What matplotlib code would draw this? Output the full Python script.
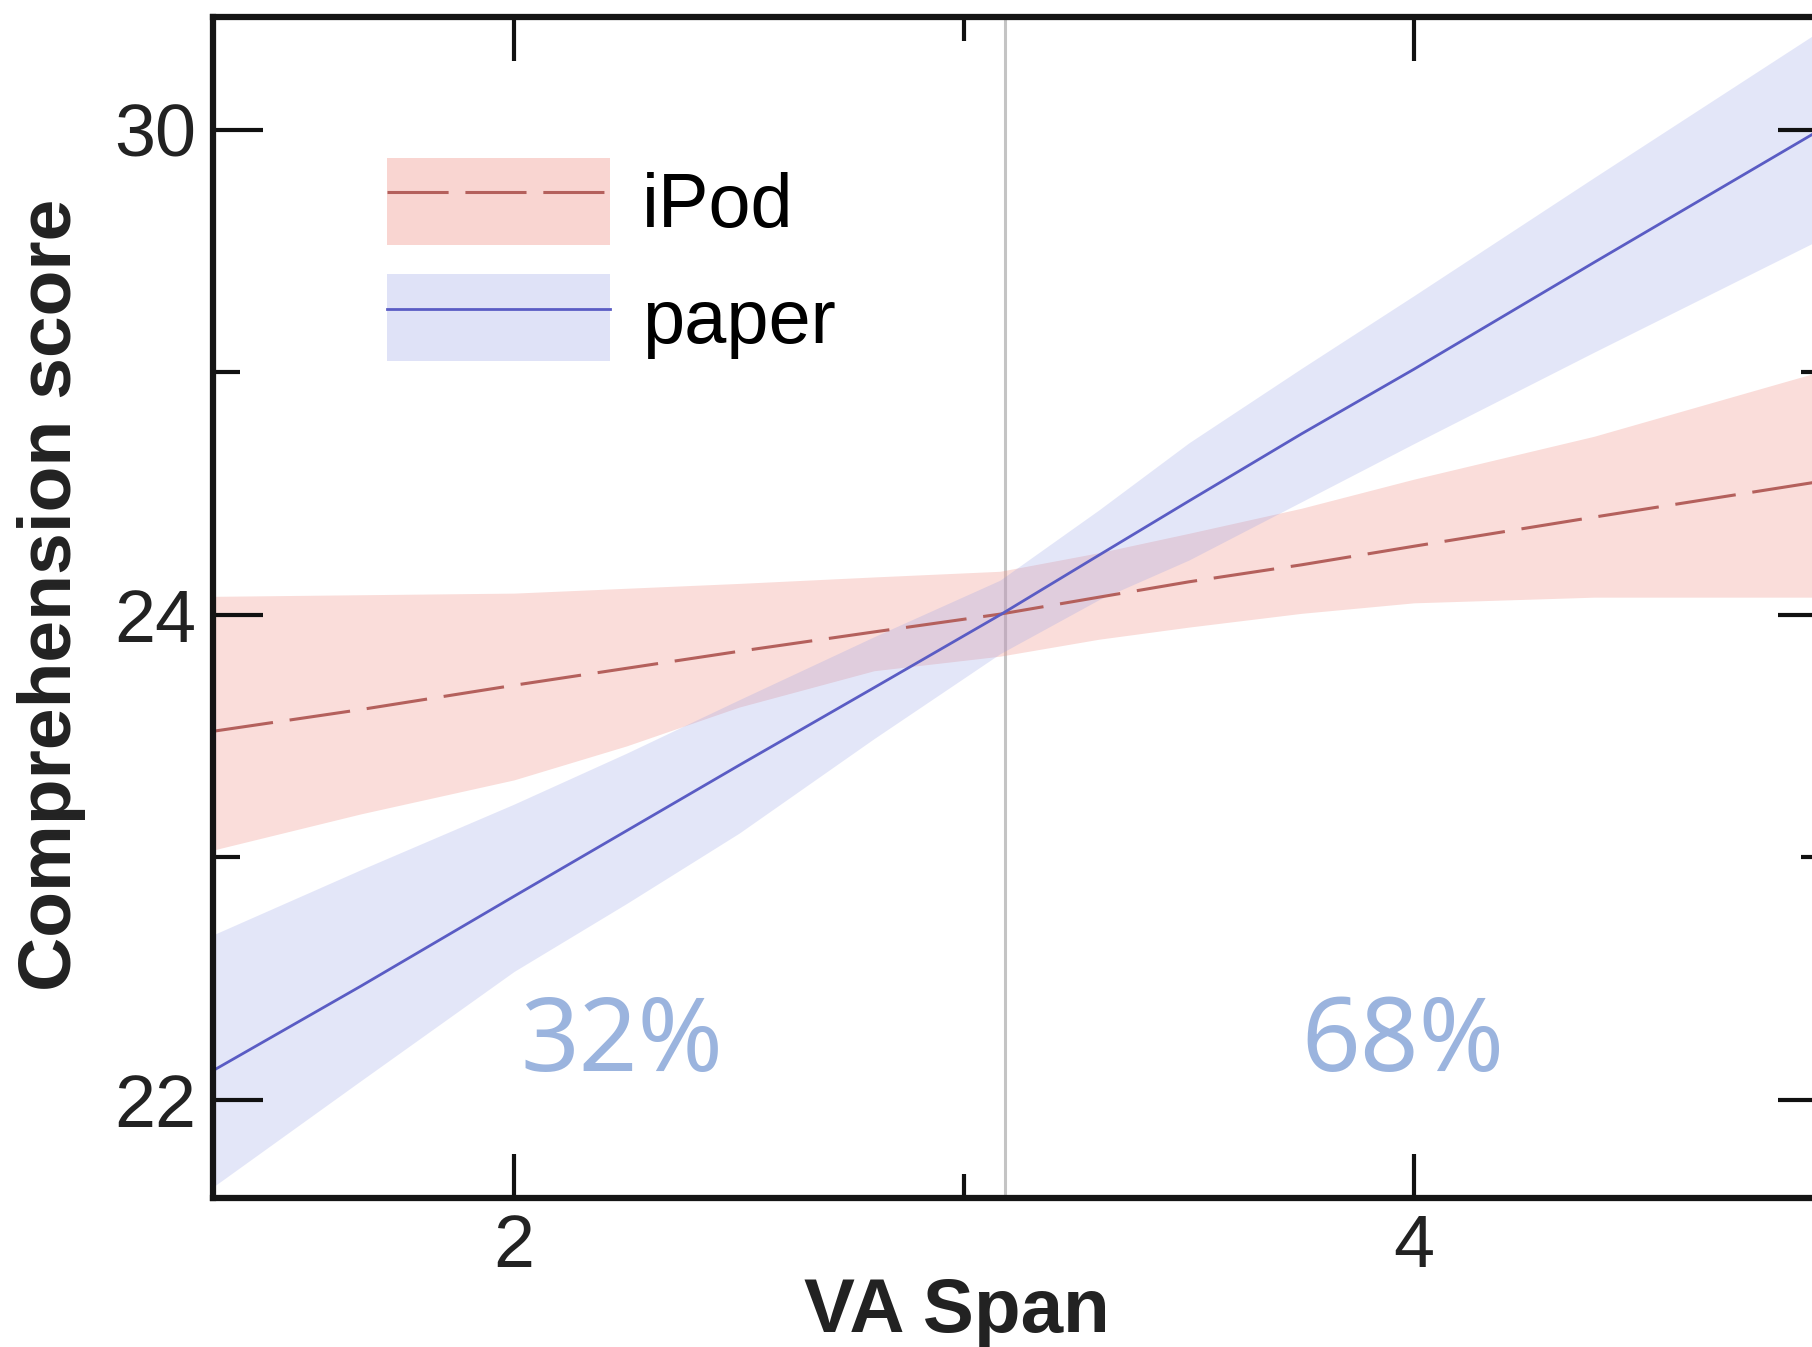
import numpy as np
import matplotlib
matplotlib.use("Agg")
import matplotlib.pyplot as plt
from matplotlib.patches import Patch
from matplotlib.lines import Line2D

# ---- data ----
x_pts = [1.33, 1.66, 2.0, 2.25, 2.5, 2.8, 3.08, 3.3, 3.5, 3.75, 4.0, 4.4, 4.89]
paper_fit = [22.12, 22.47, 22.84, 23.11, 23.38, 23.70, 24.00, 24.74, 25.41, 26.24, 27.04, 28.36, 29.96]
paper_hi = [22.68, 22.95, 23.22, 23.43, 23.65, 23.91, 24.43, 25.30, 26.13, 27.05, 27.95, 29.41, 31.18]
paper_lo = [21.64, 22.08, 22.53, 22.81, 23.10, 23.49, 23.84, 24.19, 24.68, 25.40, 26.12, 27.25, 28.61]
ipod_fit = [23.52, 23.61, 23.71, 23.78, 23.85, 23.93, 24.01, 24.22, 24.41, 24.62, 24.85, 25.21, 25.64]
ipod_hi = [24.23, 24.25, 24.27, 24.33, 24.39, 24.47, 24.54, 24.77, 25.01, 25.32, 25.68, 26.21, 26.99]
ipod_lo = [23.03, 23.18, 23.32, 23.46, 23.62, 23.77, 23.83, 23.90, 23.95, 24.02, 24.15, 24.22, 24.22]
series_labels = ["iPod", "paper"]
pct_labels = ["32%", "68%"]
pct_x = [2.24, 3.975]
pct_y = 22.23
split_x = 3.09
x_ticks = [2, 4]
x_minor = [3]
y_ticks = [22, 24, 30]
y_minor = [23, 27]

# ---- scale (axis is piecewise: 22-24 and 24-30 have equal length) ----
def fwd(y):
    y = np.asarray(y, dtype=float)
    return np.where(y <= 24, (y - 22) / 2.0, 1 + (y - 24) / 6.0)

def inv(u):
    u = np.asarray(u, dtype=float)
    return np.where(u <= 1, 22 + 2.0 * u, 24 + 6.0 * (u - 1))

plt.rcParams['font.family'] = ['Liberation Sans', 'DejaVu Sans']

W, H = 1812, 1347
fig = plt.figure(figsize=(W / 100, H / 100), dpi=100)
left, right, top, bottom = 212.6, 1828, 16.7, 1198
ax = fig.add_axes([left / W, 1 - bottom / H, (right - left) / W, (bottom - top) / H])
ax.set_yscale('function', functions=(fwd, inv))

pink_fill = (240/255, 150/255, 140/255)
blue_fill = (150/255, 160/255, 230/255)
pink_line = "#b4605c"
blue_line = "#5a5cc4"

ax.fill_between(x_pts, ipod_lo, ipod_hi, color=pink_fill, alpha=0.32, lw=0)
ax.fill_between(x_pts, paper_lo, paper_hi, color=blue_fill, alpha=0.26, lw=0)
dash = (0, (20, 5.5))
ax.plot(x_pts, ipod_fit, color=pink_line, lw=2.2, linestyle=dash)
ax.plot(x_pts, paper_fit, color=blue_line, lw=2.0)
ax.axvline(split_x, color="#c4c4c4", lw=2.2, zorder=0.5)

ax.set_xlim(1.3302, 4.92)
ax.set_ylim(21.596, 31.40)

ax.set_xticks(x_ticks)
ax.set_xticks(x_minor, minor=True)
ax.set_yticks(y_ticks)
ax.set_yticks(y_minor, minor=True)
ax.set_xticklabels([str(v) for v in x_ticks])
ax.set_yticklabels([str(v) for v in y_ticks])
ax.tick_params(axis='both', which='both', direction='in', top=True, right=True,
               color='#111111', labelsize=53, labelcolor='#222222')
ax.tick_params(axis='y', which='major', length=36, width=3, pad=12)
ax.tick_params(axis='y', which='minor', length=19.5, width=3)
ax.tick_params(axis='x', which='major', length=32, width=3, pad=11)
ax.tick_params(axis='x', which='minor', length=17, width=3)
for sp in ax.spines.values():
    sp.set_linewidth(4.5)
    sp.set_color('#151515')

fig.text(52 / W, 1 - 595 / H, "Comprehension score", rotation=90, fontsize=54,
         fontweight='bold', ha='center', va='center', color='#222222')
fig.text(957 / W, 1 - 1312 / H, "VA Span", fontsize=55, fontweight='bold',
         ha='center', va='center', color='#222222')

for px, lab in zip(pct_x, pct_labels):
    ax.text(px, pct_y, lab, fontsize=74, color="#9bb4de", ha='center', va='center',
            family='Noto Sans')

h_ipod = (Patch(facecolor=pink_fill, alpha=0.4, lw=0),
          Line2D([], [], color=pink_line, lw=2.2, linestyle=dash))
h_paper = (Patch(facecolor=blue_fill, alpha=0.3, lw=0),
           Line2D([], [], color=blue_line, lw=2.0))
fig.legend([h_ipod, h_paper], series_labels, loc='upper left',
           bbox_to_anchor=(387 / W, 1 - 158 / H), frameon=False, fontsize=54.5,
           borderpad=0, borderaxespad=0, handlelength=2.95, handleheight=1.39,
           handletextpad=0.42, labelspacing=0.39)

fig.savefig("out.png", dpi=100)
